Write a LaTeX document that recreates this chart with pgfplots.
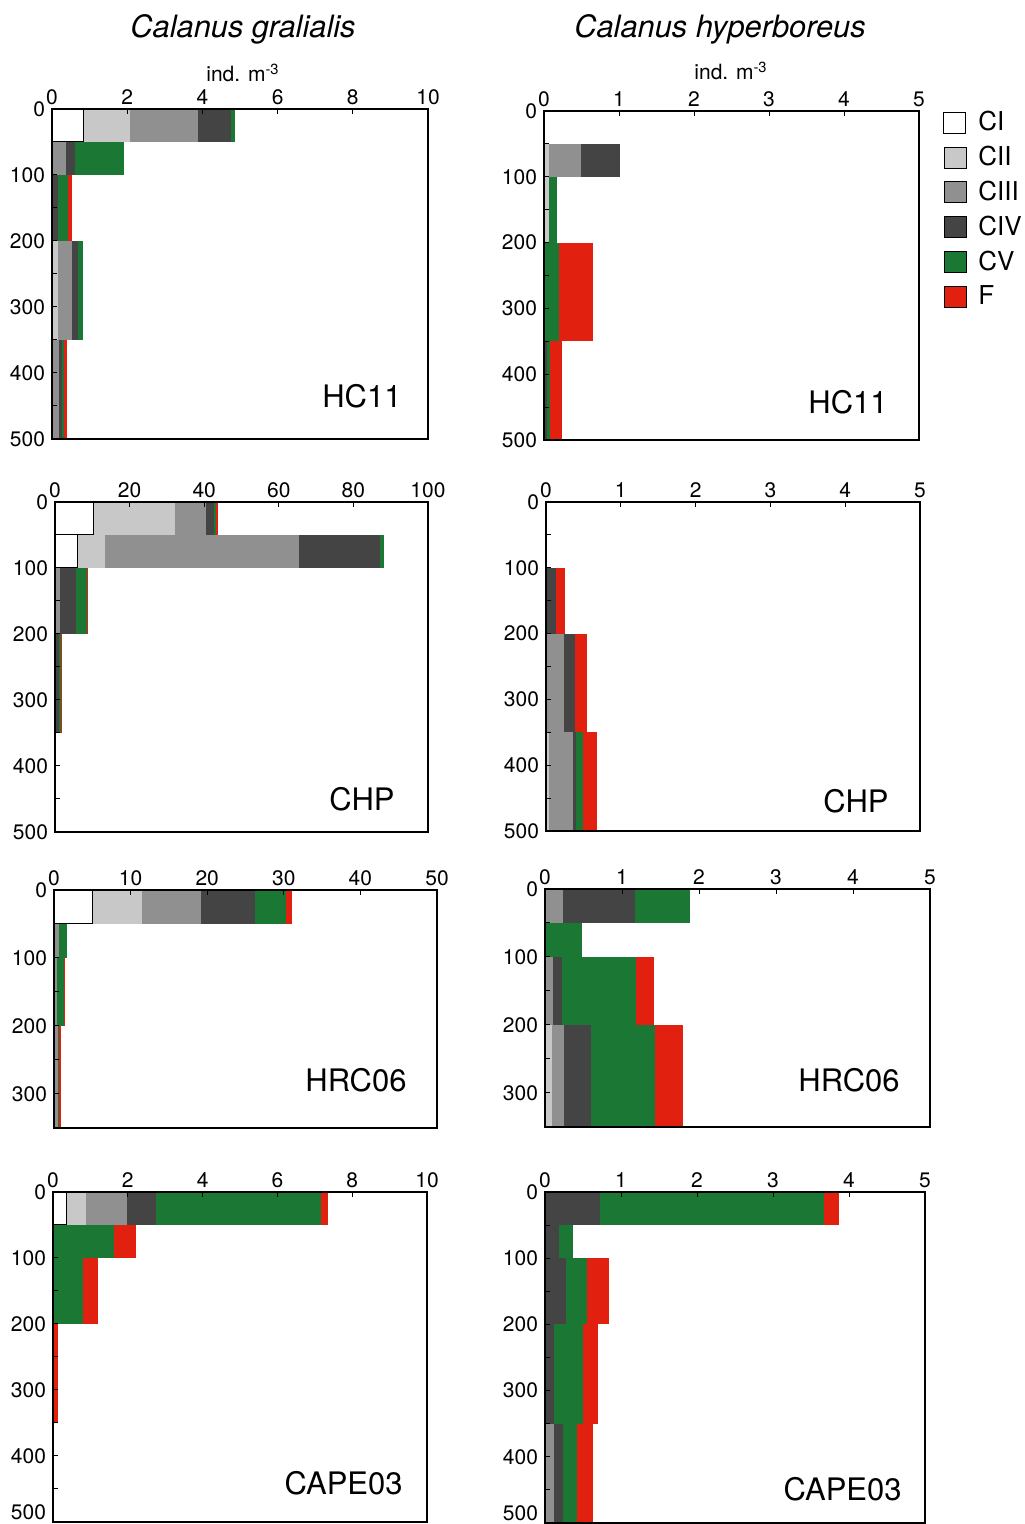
\documentclass[border=0pt]{standalone}
\usepackage{pgfplots}
\pgfplotsset{compat=1.18}
\usepackage{fontspec}
\setmainfont{TeX Gyre Heros}

\definecolor{cII}{RGB}{200,200,200}
\definecolor{cIII}{RGB}{143,144,143}
\definecolor{cIV}{RGB}{68,68,68}
\definecolor{cV}{RGB}{27,120,52}
\definecolor{cF}{RGB}{226,32,16}

\pgfplotsset{
  panel/.style={
    scale only axis, axis on top, anchor=north west,
    y dir=reverse, ymin=0, xmin=0,
    xtick pos=right, xticklabel pos=right,
    ytick pos=left,
    tick align=inside,
    major tick length=2.5pt, minor tick length=2.5pt,
    tick style={black, line width=0.5pt},
    axis line style={black, line width=0.6pt},
    ticklabel style={font=\fontsize{10.5}{12}\selectfont},
    xticklabel style={yshift=-1.5pt},
    /pgf/number format/assume math mode=true,
    no markers,
  },
  bottompanel/.style={
    ytick={0,100,...,400}, extra y ticks={500},
    extra y tick style={yticklabel style={yshift=5pt}},
  },
  sI/.style={fill=white, draw=black, line width=0.5pt, forget plot},
  sII/.style={fill=cII, draw=none, forget plot},
  sIII/.style={fill=cIII, draw=none, forget plot},
  sIV/.style={fill=cIV, draw=none, forget plot},
  sV/.style={fill=cV, draw=none, forget plot},
  sF/.style={fill=cF, draw=none, forget plot},
}

% one rectangle of a stacked bar: style, x0, x1, y0, y1
\newcommand\seg[5]{%
  \edef\segtmp{\noexpand\addplot[#1] coordinates {(#2,#4) (#3,#4) (#3,#5) (#2,#5)} -- cycle;}\segtmp}
% one depth bin: top, bottom, CI, CII, CIII, CIV, CV, F  (ind. m^-3)
\newcommand\depthbin[8]{%
  \pgfmathsetmacro\cumA{#3}%
  \pgfmathsetmacro\cumB{\cumA+#4}%
  \pgfmathsetmacro\cumC{\cumB+#5}%
  \pgfmathsetmacro\cumD{\cumC+#6}%
  \pgfmathsetmacro\cumE{\cumD+#7}%
  \pgfmathsetmacro\cumF{\cumE+#8}%
  \ifdim #4pt>0pt \seg{sII}{\cumA}{\cumB}{#1}{#2}\fi
  \ifdim #5pt>0pt \seg{sIII}{\cumB}{\cumC}{#1}{#2}\fi
  \ifdim #6pt>0pt \seg{sIV}{\cumC}{\cumD}{#1}{#2}\fi
  \ifdim #7pt>0pt \seg{sV}{\cumD}{\cumE}{#1}{#2}\fi
  \ifdim #8pt>0pt \seg{sF}{\cumE}{\cumF}{#1}{#2}\fi
  \ifdim #3pt>0pt \seg{sI}{0}{\cumA}{#1}{#2}\fi
}
\tikzset{stn/.style={anchor=base east, font=\fontsize{15.5}{18}\selectfont, inner sep=0pt}}

\begin{document}
\begin{tikzpicture}
\path[use as bounding box] (0,0) rectangle (512pt,762pt);

% titles
\node[anchor=base, font=\fontsize{15.4}{18}\selectfont\itshape, inner sep=0pt] at (121.5pt,743pt) {Calanus gralialis};
\node[anchor=base, font=\fontsize{15.4}{18}\selectfont\itshape, inner sep=0pt] at (360pt,743pt) {Calanus hyperboreus};
\node[anchor=base, font=\fontsize{10.5}{12}\selectfont, inner sep=0pt] at (121.5pt,721pt) {ind. m\textsuperscript{-3}};
\node[anchor=base, font=\fontsize{10.5}{12}\selectfont, inner sep=0pt] at (365.5pt,722pt) {ind. m\textsuperscript{-3}};

% ---------- HC11, C. glacialis ----------
\begin{axis}[panel, at={(26pt,707.5pt)}, width=188pt, height=165pt,
  xmax=10, ymax=500, xtick={0,2,...,10}, ytick={0,100,...,500}, minor ytick={50,150,...,450}]
\depthbin{0}{50}{0.84}{1.23}{1.82}{0.87}{0.11}{0}
\depthbin{50}{100}{0}{0.03}{0.33}{0.26}{1.30}{0}
\depthbin{100}{200}{0}{0}{0.02}{0.14}{0.26}{0.11}
\depthbin{200}{350}{0}{0.16}{0.38}{0.14}{0.14}{0}
\depthbin{350}{500}{0}{0.03}{0.15}{0.08}{0.05}{0.09}
\node[stn, xshift=-13pt, yshift=15.5pt] at (rel axis cs:1,0) {HC11};
\end{axis}

% ---------- HC11, C. hyperboreus ----------
\begin{axis}[panel, at={(272pt,706.5pt)}, width=187.5pt, height=164.5pt,
  xmax=5, ymax=500, xtick={0,1,...,5}, ytick={0,100,...,500}, minor ytick={50,150,...,450},
  legend image code/.code={\path[#1] (0pt,-5.25pt) rectangle (11pt,5.25pt);},
  legend style={draw=none, fill=none, at={(1,1)}, anchor=north west, xshift=12pt, yshift=2pt,
    inner sep=0pt, row sep=2.2pt, font=\fontsize{13}{15}\selectfont,
    /tikz/every odd column/.append style={column sep=4pt}},
  legend cell align=left]
\addlegendimage{fill=white, draw=black, line width=0.5pt}
\addlegendimage{fill=cII}
\addlegendimage{fill=cIII}
\addlegendimage{fill=cIV}
\addlegendimage{fill=cV}
\addlegendimage{fill=cF}
\addlegendentry{CI}
\addlegendentry{CII}
\addlegendentry{CIII}
\addlegendentry{CIV}
\addlegendentry{CV}
\addlegendentry{F}
\depthbin{50}{100}{0}{0.07}{0.42}{0.52}{0}{0}
\depthbin{100}{200}{0}{0.07}{0}{0}{0.10}{0}
\depthbin{200}{350}{0}{0}{0}{0}{0.20}{0.45}
\depthbin{350}{500}{0}{0}{0}{0.035}{0.045}{0.155}
\node[stn, xshift=-15.5pt, yshift=13pt] at (rel axis cs:1,0) {HC11};
\end{axis}

% ---------- CHP, C. glacialis ----------
\begin{axis}[panel, at={(27.5pt,511pt)}, width=186.5pt, height=165pt,
  xmax=100, ymax=500, xtick={0,20,...,100}, ytick={0,100,...,500}, minor ytick={50,150,...,450}]
\depthbin{0}{50}{10.3}{22.0}{8.1}{2.1}{0.7}{0.4}
\depthbin{50}{100}{5.9}{7.6}{52.0}{21.7}{1.1}{0}
\depthbin{100}{200}{0}{0}{1.4}{4.3}{2.8}{0.4}
\depthbin{200}{350}{0}{0}{0}{1.2}{0.4}{0.2}
\node[stn, xshift=-16.5pt, yshift=10.5pt] at (rel axis cs:1,0) {CHP};
\end{axis}

% ---------- CHP, C. hyperboreus ----------
\begin{axis}[panel, at={(273pt,511pt)}, width=187pt, height=164.5pt,
  xmax=5, ymax=500, xtick={0,1,...,5}, ytick={0,100,...,500}, minor ytick={50,150,...,450}]
\depthbin{100}{200}{0}{0}{0}{0.134}{0}{0.125}
\depthbin{200}{350}{0}{0}{0.245}{0.147}{0}{0.156}
\depthbin{350}{500}{0}{0.045}{0.316}{0.04}{0.09}{0.187}
\node[stn, xshift=-15.5pt, yshift=9pt] at (rel axis cs:1,0) {CHP};
\end{axis}

% ---------- HRC06, C. glacialis ----------
\begin{axis}[panel, at={(27pt,317pt)}, width=191.5pt, height=119pt,
  xmax=50, ymax=350, xtick={0,10,...,50}, ytick={0,100,...,300}, minor ytick={50,150,250}]
\depthbin{0}{50}{5.05}{6.5}{7.65}{7.1}{3.95}{0.87}
\depthbin{50}{100}{0}{0}{0.6}{0.05}{1.1}{0}
\depthbin{100}{200}{0}{0}{0.43}{0}{0.87}{0.17}
\depthbin{200}{350}{0}{0}{0.55}{0}{0.05}{0.25}
\node[stn, xshift=-15pt, yshift=18pt] at (rel axis cs:1,0) {HRC06};
\end{axis}

% ---------- HRC06, C. hyperboreus ----------
\begin{axis}[panel, at={(272.5pt,317.5pt)}, width=192.5pt, height=119pt,
  xmax=5, ymax=350, xtick={0,1,...,5}, ytick={0,100,...,300}, minor ytick={50,150,250}]
\depthbin{0}{50}{0}{0}{0.24}{0.935}{0.71}{0}
\depthbin{50}{100}{0}{0}{0}{0}{0.48}{0}
\depthbin{100}{200}{0}{0}{0.11}{0.11}{0.96}{0.23}
\depthbin{200}{350}{0}{0.096}{0.157}{0.343}{0.835}{0.357}
\node[stn, xshift=-15pt, yshift=17.5pt] at (rel axis cs:1,0) {HRC06};
\end{axis}

% ---------- CAPE03, C. glacialis ----------
\begin{axis}[panel, bottompanel, at={(26.5pt,166pt)}, width=187pt, height=165pt,
  xmax=10, ymax=500, xtick={0,2,...,10}, minor ytick={50,150,...,450}]
\depthbin{0}{50}{0.35}{0.54}{1.10}{0.76}{4.41}{0.20}
\depthbin{50}{100}{0}{0}{0}{0}{1.64}{0.59}
\depthbin{100}{200}{0}{0}{0}{0}{0.80}{0.41}
\depthbin{200}{350}{0}{0}{0}{0}{0.02}{0.11}
\node[stn, xshift=-12pt, yshift=13.5pt] at (rel axis cs:1,0) {CAPE03};
\end{axis}

% ---------- CAPE03, C. hyperboreus ----------
\begin{axis}[panel, bottompanel, at={(272.5pt,166pt)}, width=190pt, height=165.5pt,
  xmax=5, ymax=500, xtick={0,1,...,5}, minor ytick={50,150,...,450}]
\depthbin{0}{50}{0}{0}{0}{0.725}{2.94}{0.20}
\depthbin{50}{100}{0}{0}{0}{0.185}{0.185}{0}
\depthbin{100}{200}{0}{0}{0}{0.27}{0.285}{0.285}
\depthbin{200}{350}{0}{0}{0}{0.123}{0.378}{0.198}
\depthbin{350}{500}{0}{0}{0.123}{0.114}{0.19}{0.198}
\node[stn, xshift=-11.5pt, yshift=11pt] at (rel axis cs:1,0) {CAPE03};
\end{axis}
\end{tikzpicture}
\end{document}
